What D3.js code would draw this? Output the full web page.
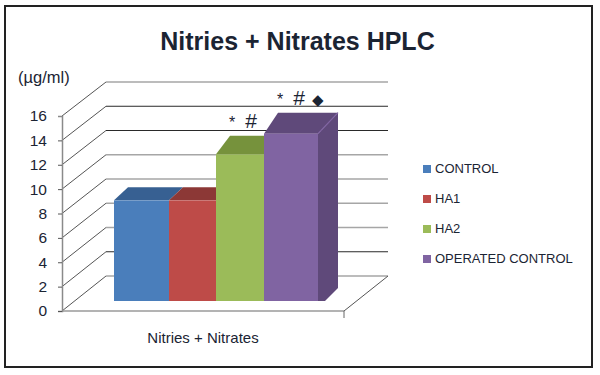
<!DOCTYPE html>
<html>
<head>
<meta charset="utf-8">
<script src="https://cdn.jsdelivr.net/npm/d3@7"></script>
<style>
html, body { margin: 0; padding: 0; background: #fff; }
svg { display: block; }
text { font-family: "Liberation Sans", Arial, sans-serif; fill: #1b2433; }
</style>
</head>
<body>
<svg id="chart" width="600" height="375"></svg>
<script>
let categories = ['CONTROL', 'HA1', 'HA2', 'OPERATED CONTROL'];
let values = [8.3, 8.3, 12.1, 13.8];
let yTicks = [0, 2, 4, 6, 8, 10, 12, 14, 16];
let darkLines = [2, 12, 14];
let marks = [[], [], ['*', '#'], ['*', '#', '\u25C6']];

let frontColors = ['#4a7ebb', '#be4b48', '#9bbb59', '#8064a2'];
let topColors = ['#376092', '#8c3836', '#76923c', '#5f497a'];

let svg = d3.select('#chart');

// outer frame
svg.append('rect')
	.attr('x', 5).attr('y', 6)
	.attr('width', 587).attr('height', 361)
	.attr('fill', 'none')
	.attr('stroke', '#222')
	.attr('stroke-width', 2);

svg.append('text')
	.attr('x', 297.5).attr('y', 50)
	.attr('text-anchor', 'middle')
	.attr('font-size', 25)
	.attr('font-weight', 'bold')
	.text('Nitries + Nitrates HPLC');

svg.append('text')
	.attr('x', 18).attr('y', 83)
	.attr('font-size', 16.5)
	.text('(\u00B5g/ml)');

// scales: front wall plane, back wall plane, bar face plane
let yFront = d3.scaleLinear().domain([0, 16]).range([311, 116]);
let yBack = d3.scaleLinear().domain([0, 16]).range([276, 82]);
let yBar = d3.scaleLinear().domain([0, 16]).range([301, 107]);
let barLeft = d3.scaleOrdinal(categories, [114, 169, 216, 264]);
let barRight = d3.scaleOrdinal(categories, [169, 216, 264, 318]);
// the top faces get deeper as the bars get taller (perspective of the original)
let topDepth = d3.scaleLinear().domain([8.3, 13.8]).range([13, 21]);
let sideDepth = d3.scaleLinear().domain([8.3, 13.8]).range([14, 20]);
let markSize = d3.scaleOrdinal(['*', '#', '\u25C6'], [16, 21, 15]);

let xLeft = 62, xRight = 344, xBackLeft = 106, xBackRight = 388;

// walls and floor
let grid = svg.append('g').attr('fill', 'none');

grid.selectAll('line.back')
	.data(yTicks)
	.enter()
	.append('line')
	.attr('class', 'back')
	.attr('x1', xBackLeft).attr('x2', xBackRight)
	.attr('y1', d => yBack(d)).attr('y2', d => yBack(d))
	.attr('stroke', d => darkLines.includes(d) ? '#2a2a2a' : '#a6a6a6')
	.attr('stroke-width', d => darkLines.includes(d) ? 1 : 1.4);

grid.selectAll('line.diag')
	.data(yTicks)
	.enter()
	.append('line')
	.attr('class', 'diag')
	.attr('x1', xLeft).attr('x2', xBackLeft)
	.attr('y1', d => yFront(d)).attr('y2', d => yBack(d))
	.attr('stroke', '#555')
	.attr('stroke-width', 1);

grid.append('line')
	.attr('x1', xRight).attr('x2', xBackRight)
	.attr('y1', yFront(0)).attr('y2', yBack(0))
	.attr('stroke', '#555');

grid.append('line')
	.attr('x1', xLeft).attr('x2', xRight)
	.attr('y1', yFront(0)).attr('y2', yFront(0))
	.attr('stroke', '#9a9a9a')
	.attr('stroke-width', 1.4);

grid.append('line')
	.attr('x1', xRight).attr('x2', xRight)
	.attr('y1', yFront(0)).attr('y2', yFront(0) + 7)
	.attr('stroke', '#666');

// value axis
let yAxis = d3.axisLeft(yFront)
	.tickValues(yTicks)
	.tickSize(4)
	.tickPadding(11);

let axisG = svg.append('g')
	.attr('transform', 'translate(' + xLeft + ',0)')
	.call(yAxis);

axisG.select('.domain')
	.attr('stroke', '#8a8a8a')
	.attr('stroke-width', 1.5);
axisG.selectAll('.tick line')
	.attr('stroke', '#555')
	.style('display', d => d === 16 ? 'none' : null);
axisG.selectAll('.tick text')
	.attr('font-size', 15.5)
	.style('font-family', '"Liberation Sans", Arial, sans-serif')
	.attr('fill', '#1b2433');

// bars, back to front
let bars = svg.append('g')
	.selectAll('g')
	.data(categories)
	.enter()
	.append('g');

bars.append('path')
	.attr('fill', (d, i) => topColors[i])
	.attr('d', (d, i) => {
		let t = yBar(values[i]);
		let dy = topDepth(values[i]);
		let dx = sideDepth(values[i]);
		return 'M' + barLeft(d) + ',' + t
			+ 'L' + (barLeft(d) + 14) + ',' + (t - dy)
			+ 'L' + (barRight(d) + dx) + ',' + (t - dy)
			+ 'L' + barRight(d) + ',' + t + 'Z';
	});

bars.append('rect')
	.attr('x', d => barLeft(d))
	.attr('width', d => barRight(d) - barLeft(d))
	.attr('y', (d, i) => yBar(values[i]))
	.attr('height', (d, i) => yBar(0) - yBar(values[i]))
	.attr('fill', (d, i) => frontColors[i]);

// side face only shows on the last bar
let lastName = categories[categories.length - 1];
let lastValue = values[values.length - 1];
let sideTop = yBar(lastValue);
let sideX = barRight(lastName);
let sideDx = sideDepth(lastValue);
let sideDy = topDepth(lastValue);

svg.append('path')
	.attr('fill', topColors[3])
	.attr('d', 'M' + sideX + ',' + sideTop
		+ 'L' + (sideX + sideDx) + ',' + (sideTop - sideDy)
		+ 'L' + (sideX + sideDx) + ',' + (yBar(0) - 13)
		+ 'L' + (sideX + 7) + ',' + yBar(0)
		+ 'L' + sideX + ',' + yBar(0) + 'Z');

svg.append('line')
	.attr('x1', sideX).attr('y1', sideTop)
	.attr('x2', sideX + sideDx).attr('y2', sideTop - sideDy)
	.attr('stroke', frontColors[3])
	.attr('stroke-width', 1.2);

// significance marks over the bars
marks.forEach(function(group, i) {
	svg.append('g')
		.selectAll('text')
		.data(group)
		.enter()
		.append('text')
		.attr('x', (d, k) => barLeft(categories[i]) + 16 + k * 19)
		.attr('y', yBar(values[i]) - topDepth(values[i]) - 8)
		.attr('text-anchor', 'middle')
		.attr('font-size', d => markSize(d))
		.text(d => d);
});

// category label
svg.append('text')
	.attr('x', 203).attr('y', 342.5)
	.attr('text-anchor', 'middle')
	.attr('font-size', 15)
	.text('Nitries + Nitrates');

// legend
let legendY = d3.scalePoint().domain(categories).range([169, 259]);

let legend = svg.append('g')
	.selectAll('g')
	.data(categories)
	.enter()
	.append('g')
	.attr('transform', d => 'translate(423,' + legendY(d) + ')');

legend.append('rect')
	.attr('x', 0).attr('y', -4)
	.attr('width', 8).attr('height', 8)
	.attr('fill', (d, i) => frontColors[i]);

legend.append('text')
	.attr('x', 12).attr('y', 3.5)
	.attr('font-size', 13)
	.text(d => d);
</script>
</body>
</html>
